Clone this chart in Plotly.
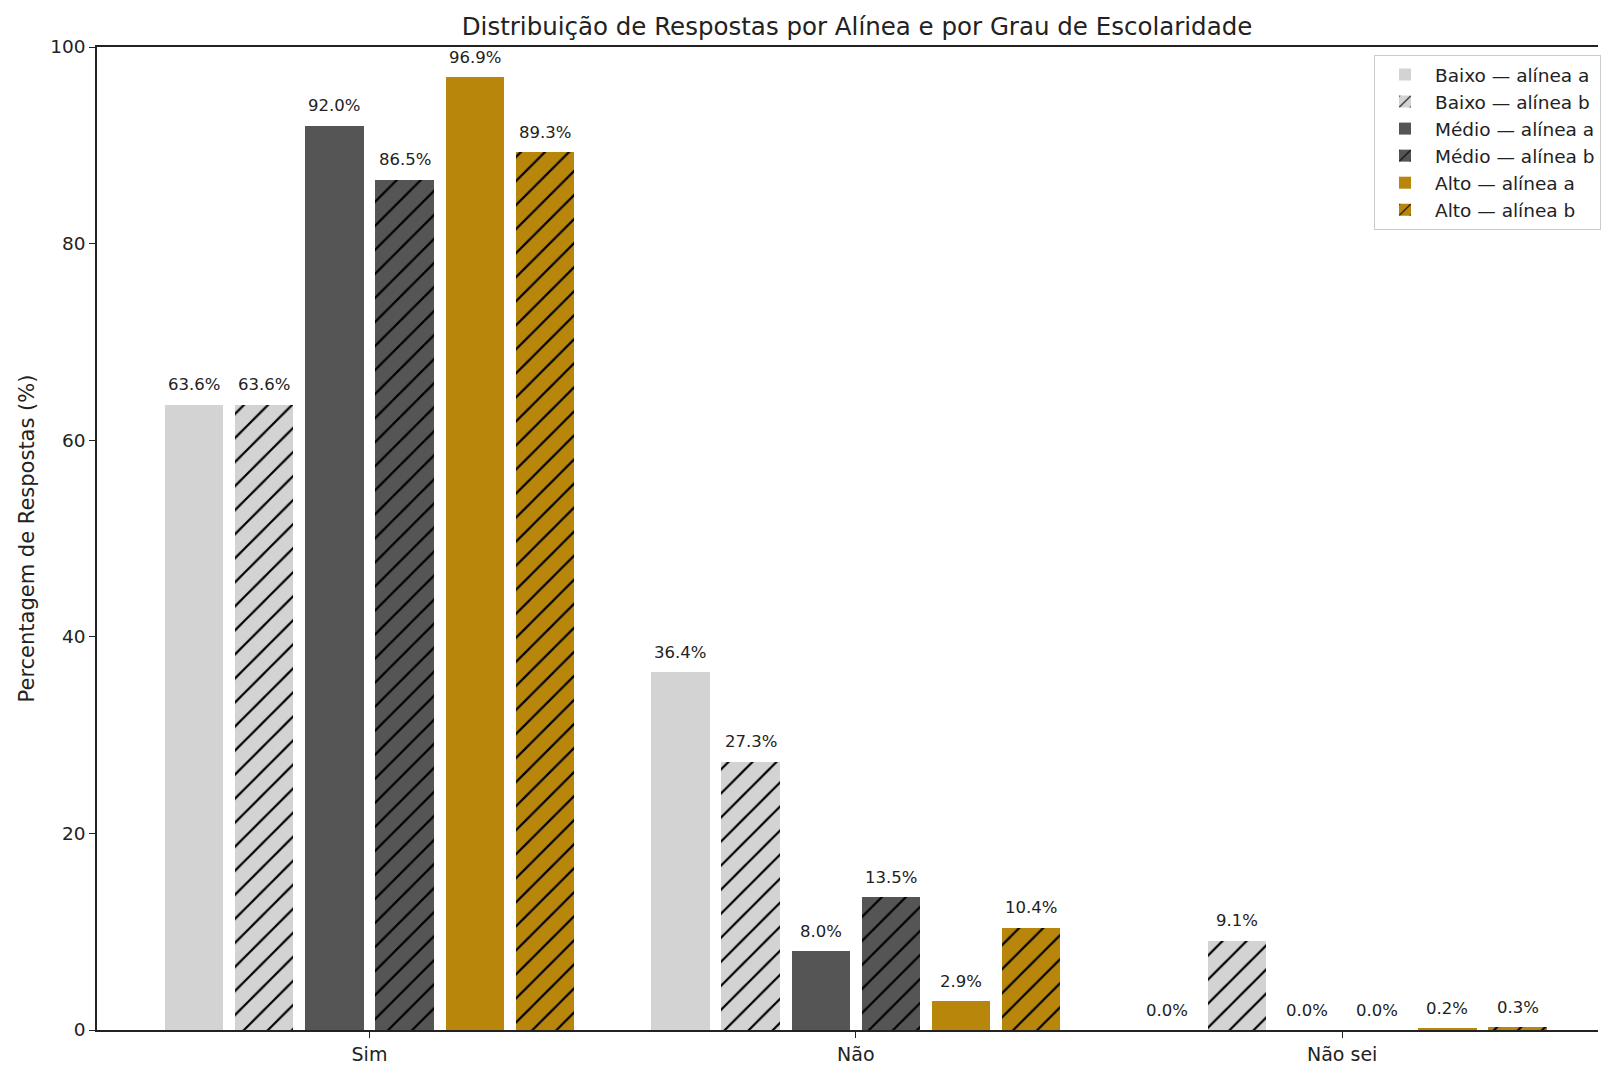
import plotly.graph_objects as go

categories = ["Sim", "Não", "Não sei"]
series_names = ["Baixo — alínea a", "Baixo — alínea b", "Médio — alínea a",
                "Médio — alínea b", "Alto — alínea a", "Alto — alínea b"]
baixo_a = [63.6, 36.4, 0.0]
baixo_b = [63.6, 27.3, 9.1]
medio_a = [92.0, 8.0, 0.0]
medio_b = [86.5, 13.5, 0.0]
alto_a = [96.9, 2.9, 0.2]
alto_b = [89.3, 10.4, 0.3]
series_values = [baixo_a, baixo_b, medio_a, medio_b, alto_a, alto_b]
y_ticks = [0, 20, 40, 60, 80, 100]

colors = ["#d3d3d3", "#d3d3d3", "#555555", "#555555", "#b8860b", "#b8860b"]
hatched = [False, True, False, True, False, True]

STEP = 0.1443
WIDTH = 0.12
FONT = "DejaVu Sans"

fig = go.Figure()
annotations = []
for i, (name, vals) in enumerate(zip(series_names, series_values)):
    xs = [c + (i - 2.5) * STEP for c in range(len(categories))]
    pattern = dict(shape="/", fgcolor="#000000", fgopacity=1, bgcolor=colors[i],
                   size=17, solidity=0.13, fillmode="replace") if hatched[i] else dict(shape="")
    fig.add_trace(go.Bar(
        x=xs, y=vals, width=WIDTH, name=name,
        marker=dict(color=colors[i], line=dict(width=0), pattern=pattern),
    ))
    for x, v in zip(xs, vals):
        annotations.append(dict(
            x=x, y=v, xref="x", yref="y", text=f"{v:.1f}%", showarrow=False,
            yanchor="middle", yshift=20, font=dict(family=FONT, size=16.5, color="#222222"),
        ))

fig.update_layout(
    width=1601, height=1065,
    margin=dict(l=97, r=0, t=47, b=32),
    paper_bgcolor="white", plot_bgcolor="white",
    font=dict(family=FONT, color="#222222"),
    barmode="overlay",
    title=dict(text="Distribuição de Respostas por Alínea e por Grau de Escolaridade",
               x=857 / 1601, xref="container", xanchor="center",
               y=1 - 26.5 / 1065, yref="container", yanchor="middle",
               font=dict(family=FONT, size=24.5, color="#222222")),
    xaxis=dict(range=[-0.5602, 2.526], tickvals=list(range(len(categories))),
               ticktext=categories, showgrid=False, zeroline=False,
               showline=True, linecolor="#222222", linewidth=1.5, mirror=True,
               ticks="outside", ticklen=6, tickwidth=1.3, tickcolor="#222222",
               tickfont=dict(family=FONT, size=19, color="#222222")),
    yaxis=dict(range=[0, 100], tickvals=y_ticks, showgrid=False, zeroline=False,
               showline=True, linecolor="#222222", linewidth=1.5, mirror=False,
               ticks="outside", ticklen=6, tickwidth=1.3, tickcolor="#222222",
               tickfont=dict(family=FONT, size=18.5, color="#222222"),
               title=dict(text="Percentagem de Respostas (%)", standoff=10,
                          font=dict(family=FONT, size=21, color="#222222")),
               automargin=False),
    legend=dict(x=(1376.7 - 97) / 1504, y=(1033 - 55) / 986, xanchor="left", yanchor="top",
                bgcolor="rgba(255,255,255,0.85)", bordercolor="#cccccc", borderwidth=1,
                font=dict(family=FONT, size=18.5, color="#222222"),
                tracegroupgap=0, itemwidth=50),
    annotations=annotations,
    bargap=0,
)

fig.write_html("out.html", config={"displayModeBar": False},
               post_script="document.body.style.margin='0';")
